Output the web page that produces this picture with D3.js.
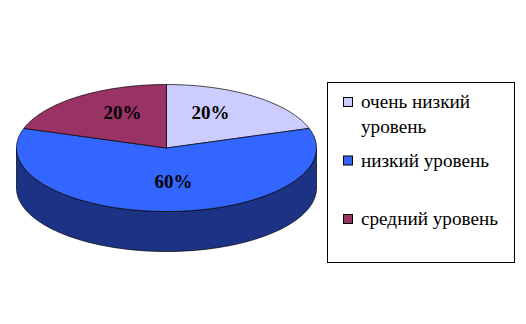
<!DOCTYPE html>
<meta charset="utf-8">
<head>
    <title>Уровни</title>
    <script type="text/javascript" src="https://cdn.jsdelivr.net/npm/d3@7"></script>
    <style>
        body { margin: 0; background: white; }
        svg text { font-family: "Liberation Serif", "Times New Roman", Tinos, FreeSerif, "Nimbus Roman", serif; }
    </style>
</head>
<body>
    <script>
        // data
        const categories = ["очень низкий уровень", "низкий уровень", "средний уровень"]
        const legendLines = [["очень низкий", "уровень"], ["низкий уровень"], ["средний уровень"]]
        const values = [20, 60, 20]
        const topColors = ["#ccccff", "#3366ff", "#993366"]
        const sideColors = ["#666680", "#1c3385", "#4d1a33"]

        const w = 526, h = 324
        const cx = 166.5, cy = 148, rx = 150, ry = 63.5, depth = 40

        let svg = d3.select("body").append("svg")
            .attr("width", w)
            .attr("height", h)

        // angle measured clockwise from 12 o'clock
        let pie = d3.pie().sort(null).value(d => d)
        let arcs = pie(values)

        function pt(a, dy) {
            return [cx + rx * Math.sin(a), cy - ry * Math.cos(a) + (dy || 0)]
        }

        function topPath(a0, a1) {
            let n = Math.max(2, Math.ceil((a1 - a0) / 0.02))
            let p = d3.path()
            p.moveTo(cx, cy)
            for (let i = 0; i <= n; i++) {
                let q = pt(a0 + (a1 - a0) * i / n)
                p.lineTo(q[0], q[1])
            }
            p.closePath()
            return p.toString()
        }

        function sidePath(a0, a1) {
            let s = Math.max(a0, Math.PI / 2), e = Math.min(a1, 3 * Math.PI / 2)
            if (e <= s) return null
            let n = Math.max(2, Math.ceil((e - s) / 0.02))
            let p = d3.path()
            let q0 = pt(s)
            p.moveTo(q0[0], q0[1])
            for (let i = 1; i <= n; i++) {
                let q = pt(s + (e - s) * i / n)
                p.lineTo(q[0], q[1])
            }
            for (let i = n; i >= 0; i--) {
                let q = pt(s + (e - s) * i / n, depth)
                p.lineTo(q[0], q[1])
            }
            p.closePath()
            return p.toString()
        }

        let sides = svg.append("g").attr("id", "sides")
        arcs.forEach((d, i) => {
            let sp = sidePath(d.startAngle, d.endAngle)
            if (sp) sides.append("path")
                .attr("d", sp)
                .attr("fill", sideColors[i])
                .attr("stroke", "black")
                .attr("stroke-width", 0.7)
        })

        svg.append("g").attr("id", "slices")
            .selectAll("path")
            .data(arcs)
            .enter()
            .append("path")
            .attr("d", d => topPath(d.startAngle, d.endAngle))
            .attr("fill", (d, i) => topColors[i])
            .attr("stroke", "black")
            .attr("stroke-width", 0.7)

        // percentage labels
        let total = d3.sum(values)
        svg.append("g").attr("id", "labels")
            .selectAll("text")
            .data(arcs)
            .enter()
            .append("text")
            .attr("x", d => cx + rx * 0.5 * Math.sin((d.startAngle + d.endAngle) / 2) + (d.index == 1 ? 7 : 0))
            .attr("y", d => cy - 5 - ry * 0.6 * Math.cos((d.startAngle + d.endAngle) / 2))
            .attr("dy", "0.35em")
            .attr("text-anchor", "middle")
            .attr("font-size", 19)
            .attr("font-weight", "bold")
            .attr("fill", "black")
            .text(d => Math.round(d.value / total * 100) + "%")

        // legend
        let legend = svg.append("g").attr("id", "legend")
        legend.append("rect")
            .attr("x", 327.5)
            .attr("y", 82.5)
            .attr("width", 187)
            .attr("height", 180)
            .attr("fill", "white")
            .attr("stroke", "black")
            .attr("stroke-width", 1)

        let itemY = d3.scalePoint().domain(categories).range([102, 219])
        categories.forEach((c, i) => {
            let y = itemY(c)
            legend.append("rect")
                .attr("x", 343.5)
                .attr("y", y - 4.5)
                .attr("width", 9)
                .attr("height", 9)
                .attr("fill", topColors[i])
                .attr("stroke", "black")
                .attr("stroke-width", 1)
            let t = legend.append("text")
                .attr("x", 361)
                .attr("y", y + 6)
                .attr("font-size", 19.2)
                .attr("fill", "black")
            legendLines[i].forEach((line, j) => {
                t.append("tspan")
                    .attr("x", 361)
                    .attr("dy", j == 0 ? 0 : 25)
                    .text(line)
            })
        })
    </script>
</body>
